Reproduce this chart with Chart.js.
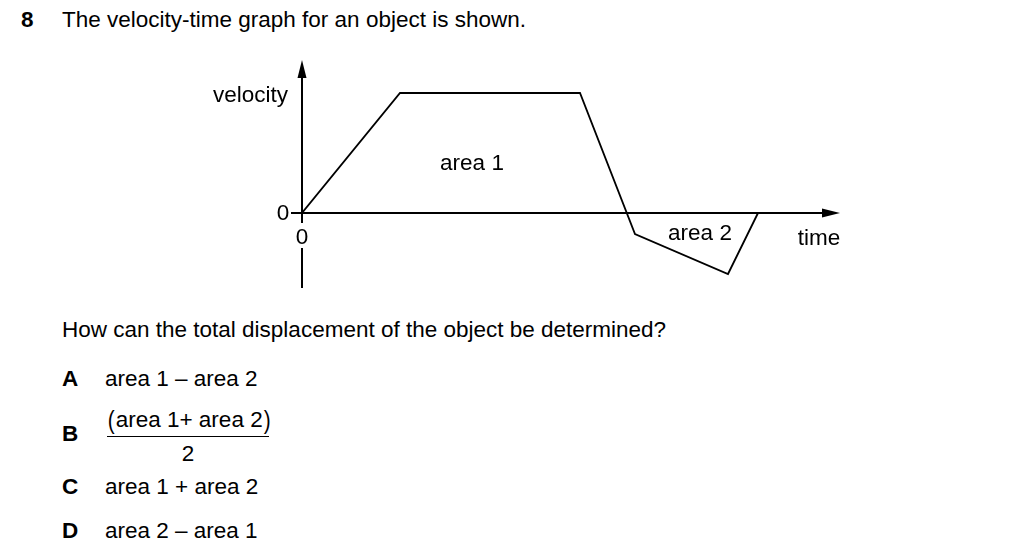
<!DOCTYPE html>
<html>
<head>
<meta charset="utf-8">
<script src="https://cdn.jsdelivr.net/npm/chart.js@4"></script>
<style>
  html, body { margin: 0; padding: 0; background: #fff; }
  body { width: 1024px; height: 559px; position: relative; overflow: hidden;
         font-family: 'Liberation Sans', Arial, sans-serif; font-size: 22.5px; color: #000; }
  .t { position: absolute; white-space: nowrap; line-height: 1; }
  .b { font-weight: bold; }
  #wrap { position: absolute; left: 200px; top: 40px; width: 700px; height: 270px; }
  .frac { position: absolute; left: 107px; top: 407px; width: 162px; text-align: center; }
  .frac .num { border-bottom: 1.5px solid #000; padding-bottom: 3px; }
  .frac .num span { font-size: 26px; display: inline-block; transform: scaleX(0.8); vertical-align: -2px; }
  .frac .den { padding-top: 6px; }
</style>
</head>
<body>
<div class="t b" style="left:21px;top:9px;">8</div>
<div class="t" style="left:62px;top:9px;">The velocity-time graph for an object is shown.</div>

<div id="wrap"><canvas id="vt"></canvas></div>

<div class="t" style="left:62px;top:319px;">How can the total displacement of the object be determined?</div>

<div class="t b" style="left:62px;top:368px;">A</div>
<div class="t" style="left:105px;top:368px;">area 1 – area 2</div>

<div class="t b" style="left:62px;top:423px;">B</div>
<div class="frac t">
  <div class="num"><span>(</span>area 1+ area 2<span>)</span></div>
  <div class="den">2</div>
</div>

<div class="t b" style="left:62px;top:476px;">C</div>
<div class="t" style="left:105px;top:476px;">area 1 + area 2</div>

<div class="t b" style="left:62px;top:520px;">D</div>
<div class="t" style="left:105px;top:520px;">area 2 – area 1</div>

<script>
// data (arbitrary units)
const timeVals     = [0, 9.8, 27.8, 33.3, 42.6, 45.6];
const velocityVals = [0, 12, 12, -2.1, -6.1, 0];
const axisLabels   = { x: 'time', y: 'velocity', origin: '0' };
const regionLabels = ['area 1', 'area 2'];

const FONT = "22.5px 'Liberation Sans', Arial, sans-serif";

// axes with arrows + labels, drawn from the scales
const axesPlugin = {
  id: 'vtAxes',
  beforeDatasetsDraw(chart) {
    const { ctx, scales: { x, y } } = chart;
    const x0 = x.getPixelForValue(0), y0 = y.getPixelForValue(0);
    const xEnd = x.getPixelForValue(x.max), yTop = y.getPixelForValue(y.max);
    const yBot = y.getPixelForValue(y.min);

    ctx.save();
    ctx.strokeStyle = '#000';
    ctx.fillStyle = '#000';
    ctx.lineWidth = 2;

    // horizontal axis
    ctx.beginPath();
    ctx.moveTo(x0, y0); ctx.lineTo(xEnd - 14, y0);
    ctx.stroke();
    ctx.beginPath();
    ctx.moveTo(xEnd, y0); ctx.lineTo(xEnd - 18, y0 - 4.5); ctx.lineTo(xEnd - 18, y0 + 4.5);
    ctx.closePath(); ctx.fill();

    // vertical axis (gap below for the 0 label)
    ctx.beginPath();
    ctx.moveTo(x0, yTop + 14); ctx.lineTo(x0, y0 + 10);
    ctx.moveTo(x0, y0 + 35); ctx.lineTo(x0, yBot);
    ctx.stroke();
    ctx.beginPath();
    ctx.moveTo(x0, yTop); ctx.lineTo(x0 - 4.5, yTop + 18); ctx.lineTo(x0 + 4.5, yTop + 18);
    ctx.closePath(); ctx.fill();

    // tick at 0
    ctx.beginPath();
    ctx.moveTo(x0 - 11, y0); ctx.lineTo(x0, y0);
    ctx.stroke();

    ctx.font = FONT;
    ctx.textBaseline = 'middle';
    ctx.textAlign = 'center';
    ctx.fillText(axisLabels.origin, x0 - 19, y0 + 1);
    ctx.fillText(axisLabels.origin, x0, y0 + 25);
    ctx.textAlign = 'right';
    ctx.fillText(axisLabels.y, x0 - 14, y.getPixelForValue(11.7));
    ctx.textAlign = 'center';
    ctx.fillText(axisLabels.x, x.getPixelForValue(51.7), y.getPixelForValue(-2.6));
    ctx.fillText(regionLabels[0], x.getPixelForValue(17.0), y.getPixelForValue(4.9));
    ctx.fillText(regionLabels[1], x.getPixelForValue(39.8), y.getPixelForValue(-2.1));
    ctx.restore();
  }
};

new Chart(document.getElementById('vt'), {
  type: 'line',
  data: {
    datasets: [{
      data: timeVals.map((t, i) => ({ x: t, y: velocityVals[i] })),
      borderColor: '#000',
      borderWidth: 1.8,
      pointRadius: 0,
      tension: 0,
      fill: false
    }]
  },
  options: {
    responsive: true,
    maintainAspectRatio: false,
    animation: false,
    layout: { padding: { left: 102, right: 60, top: 20, bottom: 22 } },
    plugins: { legend: { display: false }, tooltip: { enabled: false } },
    scales: {
      x: { type: 'linear', min: 0, max: 53.8, display: false },
      y: { min: -7.5, max: 15.3, display: false }
    }
  },
  plugins: [axesPlugin]
});
</script>
</body>
</html>
